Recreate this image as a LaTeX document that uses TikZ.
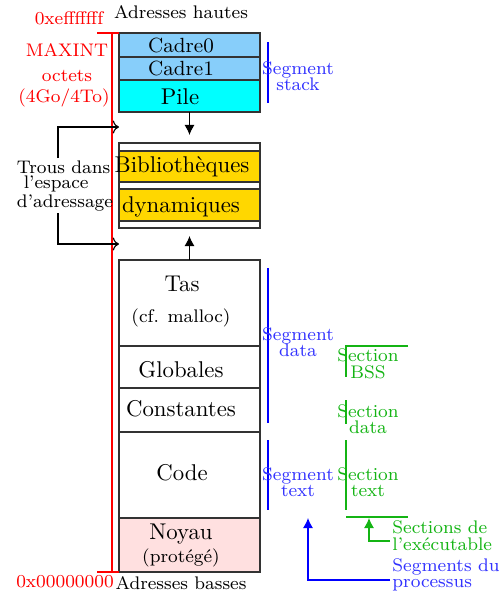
\documentclass[tikz,border=0pt]{standalone}
\usetikzlibrary{arrows.meta}
\definecolor{cadrec}{RGB}{135,206,250}
\definecolor{pilec}{RGB}{0,255,255}
\definecolor{bibc}{RGB}{255,215,0}
\definecolor{noyauc}{RGB}{255,224,224}
\definecolor{segc}{RGB}{0,0,255}
\definecolor{segt}{RGB}{50,50,255}
\definecolor{secc}{RGB}{20,180,20}
\definecolor{redc}{RGB}{255,0,0}
\newcommand{\tightfont}[1]{\footnotesize\setlength{\baselineskip}{#1}}
\begin{document}
\begin{tikzpicture}[x=0.4386pt,y=-0.4386pt,
  box/.style={draw=black!80, line width=0.55pt, minimum width={141*0.4386pt},
    minimum height={#1*0.4386pt}, inner sep=0pt, outer sep=0pt, anchor=north west},
  txt/.style={inner sep=0pt, font=\normalsize},
  stxt/.style={inner sep=0pt, font=\footnotesize},
  redtxt/.style={inner sep=0pt, font=\footnotesize, text=redc},
  redline/.style={draw=redc, line width=0.5pt},
  tip/.style={-{Latex[length=4.4pt,width=4.4pt]}},
  blkarrow/.style={draw=black, line width=0.55pt, tip},
  holearrow/.style={draw=black, line width=0.5pt, ->},
  segline/.style={draw=segc, line width=0.55pt},
  secline/.style={draw=secc, line width=0.55pt},
  seglabel/.style={inner sep=0pt, align=center, text=segt, font={\tightfont{7.3pt}}},
  seclabel/.style={inner sep=0pt, align=center, text=secc, font={\tightfont{7.3pt}}},
  holelabel/.style={inner sep=0pt, align=left, font={\tightfont{6.8pt}}},
  legsecstyle/.style={inner sep=0pt, anchor=west, align=left, text=secc, font={\tightfont{7.5pt}}},
  legsegstyle/.style={inner sep=0pt, anchor=west, align=left, text=segt, font={\tightfont{7.3pt}}},
]
\useasboundingbox (0,0) rectangle (502,593);

% boxes
\node[box=24, fill=cadrec] (cadre0) at (119,33) {};
\node[box=23, fill=cadrec] (cadre1) at (119,57) {};
\node[box=32, fill=pilec] (pile) at (119,80) {};
\node[box=85, fill=white] (libs) at (119,143) {};
\node[box=31, fill=bibc] (bib1) at (119,151) {};
\node[box=32, fill=bibc] (bib2) at (119,189) {};
\node[box=86] (tas) at (119,260) {};
\node[box=42] (glob) at (119,346) {};
\node[box=44] (const) at (119,388) {};
\node[box=86] (code) at (119,432) {};
\node[box=54, fill=noyauc] (noyau) at (119,518) {};

% box texts
\node[txt, font=\small] (tcadre0) at (181,45) {Cadre0};
\node[txt, font=\small] (tcadre1) at (181,68) {Cadre1};
\node[txt] (tpile) at (180,97) {Pile};
\node[txt] (tbib1) at (182,167) {Bibliothèques};
\node[txt] (tbib2) at (181,207) {dynamiques};
\node[txt] (ttas) at (182,284) {Tas};
\node[stxt] (tmalloc) at (181,318) {(cf. malloc)};
\node[txt] (tglob) at (181,370) {Globales};
\node[txt] (tconst) at (181,409) {Constantes};
\node[txt] (tcode) at (182,473) {Code};
\node[txt] (tnoyau) at (181,534) {Noyau};
\node[stxt] (tprot) at (181,558) {(protégé)};

% growth arrows
\draw[blkarrow, shorten >=3.5pt] (pile) -- (libs);
\draw[blkarrow, shorten >=3.5pt] (tas) -- (libs);

% addresses
\node[stxt] (hautes) at (181,12) {Adresses hautes};
\node[stxt] (basses) at (181,583) {Adresses basses};
\node[redtxt] (addrhi) at (69,18) {0xefffffff};
\node[redtxt] (addrlo) at (65,582) {0x00000000};
\node[redtxt] (maxint) at (67,50) {MAXINT};
\node[redtxt] (octets) at (67,76) {octets};
\node[redtxt] (gotxt) at (64,98) {(4Go/4To)};

\coordinate (rtl) at (97,33);
\coordinate (rbl) at (97,572);
\coordinate (rvt) at (112,33);
\coordinate (rvb) at (112,572);
\draw[redline] (rtl) -- (cadre0.north west);
\draw[redline] (rbl) -- (noyau.south west);
\draw[redline] (rvt) -- (rvb);

% holes
\node[holelabel] (trous) at (65,186) {Trous dans\\\hspace*{3pt}l'espace\\d'adressage};
\coordinate (h1s) at (58,158);
\coordinate (h1e) at (119,127);
\coordinate (h2s) at (58,213);
\coordinate (h2e) at (119,244);
\draw[holearrow] (h1s) |- (h1e);
\draw[holearrow] (h2s) |- (h2e);

% segments
\coordinate (sst) at (268,42);  \coordinate (ssb) at (268,103);
\coordinate (sdt) at (268,268); \coordinate (sdb) at (268,423);
\coordinate (stt) at (268,440); \coordinate (stb) at (268,510);
\draw[segline] (sst) -- (ssb);
\draw[segline] (sdt) -- (sdb);
\draw[segline] (stt) -- (stb);
\node[seglabel] (lstack) at (298,76) {Segment\\stack};
\node[seglabel] (ldata) at (298,342) {Segment\\data};
\node[seglabel] (ltext) at (298,482) {Segment\\text};

% sections
\coordinate (gtl) at (346,346); \coordinate (gtr) at (408,346);
\coordinate (gbss) at (346,377);
\coordinate (gdt) at (346,400); \coordinate (gdb) at (346,424);
\coordinate (gtt) at (346,440); \coordinate (gtb) at (346,510);
\coordinate (gbl) at (346,517); \coordinate (gbr) at (408,517);
\draw[secline] (gtr) -- (gtl) -- (gbss);
\draw[secline] (gdt) -- (gdb);
\draw[secline] (gtt) -- (gtb);
\draw[secline] (gbl) -- (gbr);
\node[seclabel] (lbss) at (368,364) {Section\\BSS};
\node[seclabel] (lsdata) at (368,419) {Section\\data};
\node[seclabel] (lstext) at (368,482) {Section\\text};

% legends
\node[legsecstyle] (legsec) at (392,536) {Sections de\\l'exécutable};
\node[legsegstyle] (legseg) at (392,575) {Segments du\\processus};
\coordinate (ags) at (390,541);
\coordinate (age) at (369,518);
\coordinate (abs) at (390,580);
\coordinate (abe) at (308,518);
\draw[secline, tip] (ags) -| (age);
\draw[segline, tip] (abs) -| (abe);
\end{tikzpicture}
\end{document}
